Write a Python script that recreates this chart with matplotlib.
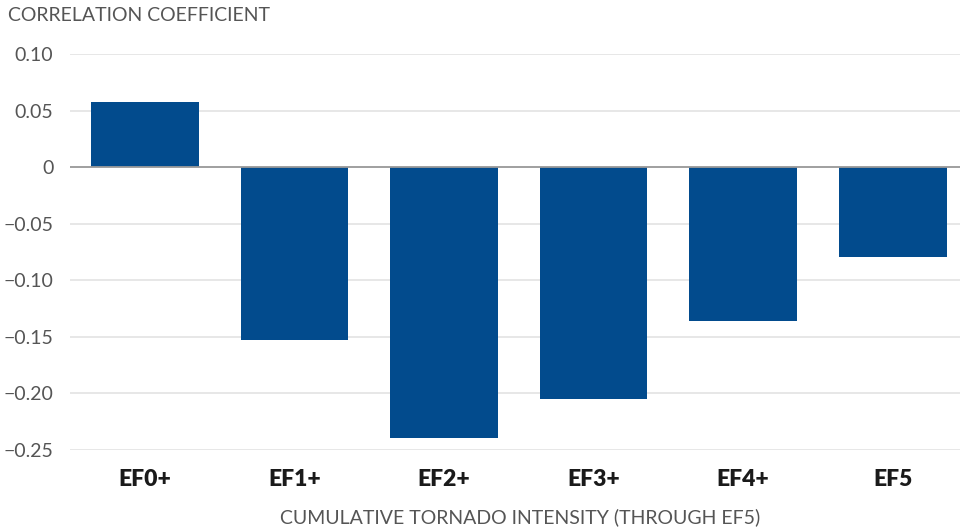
import matplotlib

matplotlib.use("Agg")
import matplotlib.pyplot as plt  # noqa: E402

categories = ["EF0+", "EF1+", "EF2+", "EF3+", "EF4+", "EF5"]
correlation = [0.058, -0.153, -0.239, -0.205, -0.136, -0.079]
y_ticks = [0.10, 0.05, 0.0, -0.05, -0.10, -0.15, -0.20, -0.25]
y_tick_labels = ["0.10", "0.05", "0", "\u22120.05", "\u22120.10", "\u22120.15", "\u22120.20", "\u22120.25"]

plt.rcParams["font.family"] = ["Lato", "DejaVu Sans"]

fig = plt.figure(figsize=(9.6, 5.29), dpi=100)
ax = fig.add_axes([0.0729, 0.1493, 0.9271, 0.7486])

x = list(range(len(categories)))
ax.bar(x, correlation, width=0.72, color="#024b8d", zorder=3)

ax.set_xlim(-0.5, 5.45)
ax.set_ylim(-0.25, 0.10)
ax.set_yticks(y_ticks)
ax.set_yticklabels(y_tick_labels, fontsize=14, color="#555555")
ax.set_xticks(x)
ax.set_xticklabels(categories, fontsize=16.5, fontweight="heavy", color="#1a1a1a")

ax.tick_params(axis="y", length=0, pad=12)
ax.tick_params(axis="x", length=0, pad=14)
ax.grid(axis="y", color="#e3e3e3", linewidth=1.2, zorder=0)
ax.axhline(0, color="#9a9a9a", linewidth=1.3, zorder=4)
for spine in ax.spines.values():
    spine.set_visible(False)

fig.text(0.008, 0.97, "CORRELATION COEFFICIENT", fontsize=14, color="#555555",
         ha="left", va="center")
fig.text(0.542, 0.023, "CUMULATIVE TORNADO INTENSITY (THROUGH EF5)", fontsize=14,
         color="#555555", ha="center", va="center")

fig.savefig("out.png", dpi=100)
